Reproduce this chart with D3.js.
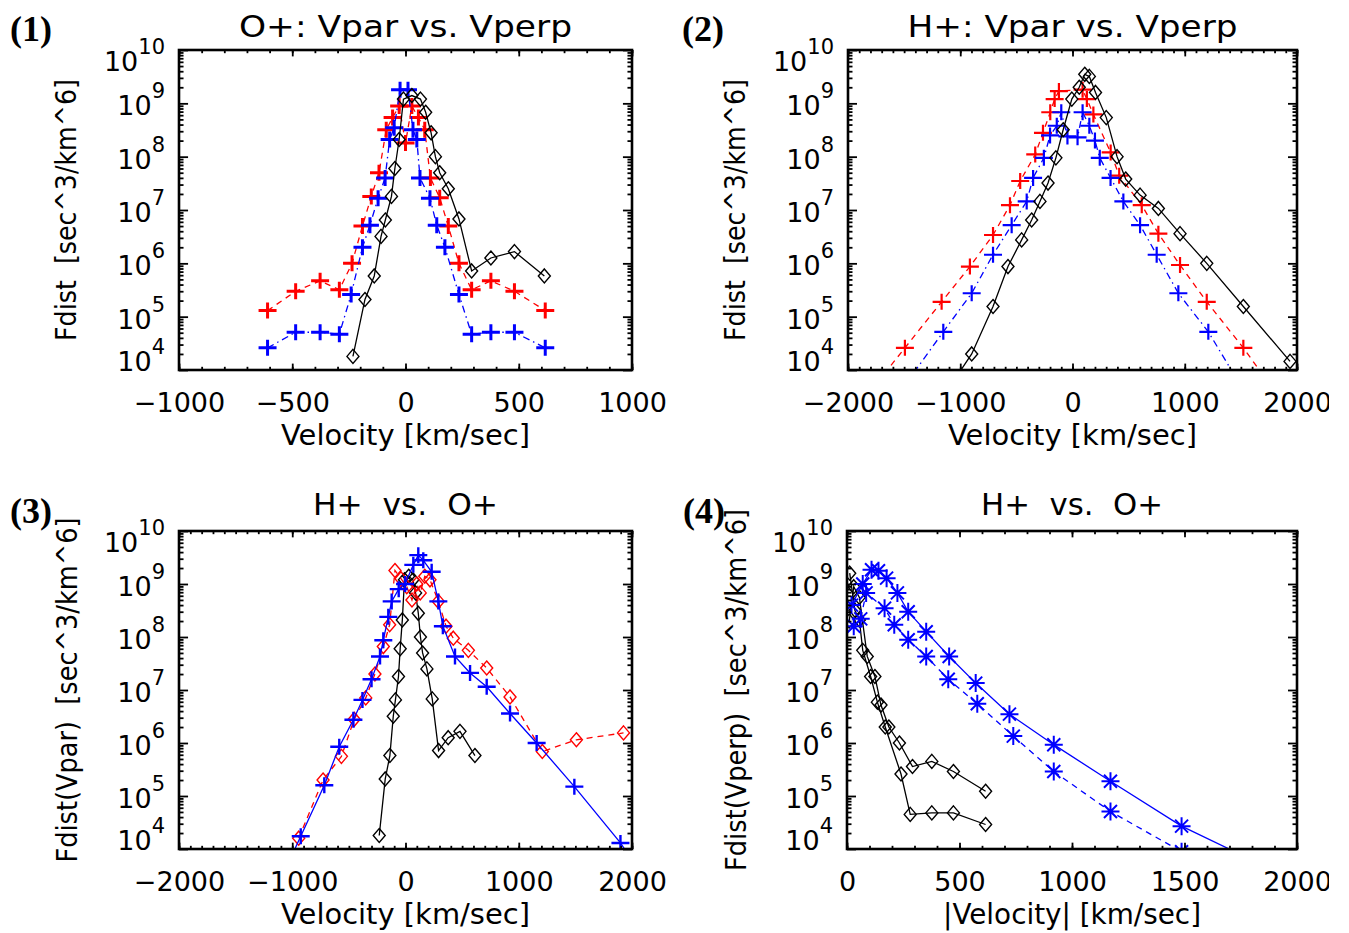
<!DOCTYPE html>
<html>
<head>
<meta charset="utf-8">
<script src="https://cdn.jsdelivr.net/npm/d3@7"></script>
<style>
  body { margin: 0; background: #fff; }
  svg text { font-family: "DejaVu Sans", sans-serif; fill: #000; }
</style>
</head>
<body>
<svg id="fig" width="1349" height="933"></svg>
<script>
// velocity in km/sec, Fdist in sec^3/km^6

// (1) O+ : black = Vpar, red / blue = the two Vperp cuts
const o1BlackV = [-232, -179, -138, -108, -89, -62, -47, -28, -9, 28, 66, 89, 113, 132, 151, 189, 236, 292, 377, 481, 613];
const o1BlackF = [1.8e4, 2.1e5, 5.8e5, 3.2e6, 6.5e6, 1.8e7, 6.0e7, 2.1e8, 1.2e9, 1.4e9, 1.2e9, 6.8e8, 2.8e8, 1.0e8, 5.0e7, 2.5e7, 6.8e6, 7.2e5, 1.26e6, 1.66e6, 5.8e5];
const o1RedV = [-609, -485, -377, -292, -236, -190, -151, -117, -85, -57, -28, 0, 28, 57, 85, 110, 151, 189, 236, 292, 377, 481, 617];
const o1RedF = [1.3e5, 3.0e5, 4.7e5, 3.2e5, 1.0e6, 5.0e6, 1.8e7, 5.0e7, 3.2e8, 5.4e8, 8.9e8, 1.8e8, 8.9e8, 5.4e8, 3.2e8, 4.0e7, 1.7e7, 5.0e6, 1.0e6, 3.2e5, 4.7e5, 3.0e5, 1.3e5];
const o1BlueV = [-609, -485, -377, -292, -240, -190, -157, -121, -90, -70, -50, -24, 11, 33, 50, 64, 108, 138, 174, 236, 292, 377, 481, 617];
const o1BlueF = [2.6e4, 5.1e4, 5.1e4, 4.7e4, 2.6e5, 2.0e6, 5.2e6, 1.66e7, 4.0e7, 2.1e8, 3.5e8, 1.8e9, 1.8e9, 3.2e8, 2.1e8, 4.0e7, 1.66e7, 5.2e6, 2.0e6, 2.6e5, 4.7e4, 5.1e4, 5.1e4, 2.6e4];

// (2) H+
const h2BlackV = [-1120, -898, -708, -575, -453, -364, -290, -218, -148, -83, -6, 60, 109, 150, 205, 301, 397, 474, 602, 765, 958, 1196, 1522, 1938];
const h2BlackF = [4e3, 2.0e4, 1.55e5, 8.7e5, 2.75e6, 6.5e6, 1.45e7, 3.2e7, 9.5e7, 3.2e8, 1.2e9, 2.0e9, 3.5e9, 3.2e9, 1.6e9, 5.4e8, 1.0e8, 3.8e7, 1.9e7, 1.07e7, 3.6e6, 1.0e6, 1.55e5, 1.45e4];
const h2RedV = [-1800, -1493, -1166, -914, -708, -557, -466, -332, -263, -198, -159, -121, 90, 128, 186, 340, 416, 617, 765, 958, 1196, 1522, 1800];
const h2RedF = [4e3, 2.6e4, 1.9e5, 8.7e5, 3.4e6, 1.23e7, 3.5e7, 1.1e8, 2.8e8, 6.8e8, 1.2e9, 1.7e9, 1.8e9, 1.2e9, 6.2e8, 1.2e8, 4.4e7, 1.23e7, 3.6e6, 9.3e5, 1.9e5, 2.6e4, 4e3];
const h2BlueV = [-1500, -1151, -898, -708, -542, -408, -351, -255, -200, -140, -100, -45, 45, 90, 150, 200, 243, 339, 453, 602, 750, 943, 1210, 1500];
const h2BlueF = [5e3, 5.2e4, 2.75e5, 1.45e6, 5.2e6, 1.45e7, 4.0e7, 9.5e7, 2.5e8, 3.8e8, 6.8e8, 2.4e8, 2.3e8, 6.8e8, 3.8e8, 2.0e8, 9.5e7, 4.0e7, 1.45e7, 5.2e6, 1.45e6, 2.75e5, 5.2e4, 5e3];

// (3) H+ vs O+, Fdist(Vpar)  (black = O+ Vpar, same as panel 1)
const h3RedV = [-943, -728, -566, -453, -351, -270, -196, -140, -93, -40, 11, 57, 99, 130, 170, 216, 290, 358, 422, 555, 717, 923, 1208, 1509, 1925];
const h3RedF = [1.6e4, 2.0e5, 5.6e5, 2.8e6, 7.1e6, 2.0e7, 6.6e7, 1.7e8, 1.8e9, 1.26e9, 8.9e8, 5.0e8, 1.0e9, 6.8e8, 1.4e9, 1.2e9, 4.7e8, 1.6e8, 9.5e7, 5.6e7, 2.6e7, 7.4e6, 6.9e5, 1.15e6, 1.55e6];
const h3BlueV = [-1050, -925, -717, -585, -460, -380, -300, -225, -196, -152, -122, -60, -4, 69, 113, 157, 231, 290, 330, 437, 570, 717, 923, 1158, 1491, 1898, 2100];
const h3BlueF = [4.6e3, 1.74e4, 1.6e5, 8.5e5, 2.75e6, 6.5e6, 1.6e7, 4.3e7, 8.7e7, 2.4e8, 4.7e8, 8e8, 1.0e9, 2.3e9, 3.5e9, 2.8e9, 1.7e9, 4.7e8, 1.6e8, 4.3e7, 2.1e7, 1.15e7, 3.6e6, 1.0e6, 1.5e5, 1.3e4, 3e3];

// (4) H+ vs O+, Fdist(Vperp) against |V|
const p4BlueAV = [20, 70, 109, 140, 176, 224, 272, 352, 454, 572, 722, 919, 1171, 1487, 1800];
const p4BlueAF = [4e8, 1e9, 1.86e9, 1.78e9, 1.29e9, 6.8e8, 3.0e8, 1.26e8, 4.3e7, 1.35e7, 3.5e6, 9.3e5, 1.9e5, 2.7e4, 6.2e3];
const p4BlueBV = [30, 61, 85, 167, 210, 272, 352, 450, 579, 739, 919, 1171, 1487];
const p4BlueBF = [1.6e8, 2.2e8, 6.8e8, 3.5e8, 1.7e8, 8.9e7, 4.3e7, 1.6e7, 5.5e6, 1.35e6, 2.9e5, 5.1e4, 8.9e3];
const p4BlackAV = [10, 30, 55, 90, 124, 151, 186, 233, 291, 377, 473, 616];
const p4BlackAF = [2e8, 8.9e8, 5.6e8, 4.3e7, 1.8e7, 5.2e6, 2.0e6, 1.0e6, 3.6e5, 4.5e5, 2.9e5, 1.23e5];
const p4BlackBV = [12, 35, 55, 70, 105, 135, 170, 240, 281, 377, 473, 616];
const p4BlackBF = [1.6e9, 3.2e8, 2.1e8, 5.6e7, 1.8e7, 5.9e6, 2.0e6, 2.6e5, 4.5e4, 4.8e4, 4.8e4, 2.9e4];

// ticks
const xTicks1 = [-1000, -500, 0, 500, 1000];
const xTicks2 = [-2000, -1000, 0, 1000, 2000];
const xTicks4 = [0, 500, 1000, 1500, 2000];
const yExps = [4, 5, 6, 7, 8, 9, 10];

const dash = { solid: null, dashed: "6,5", dashdot: "7,4,1.5,4" };
const marker = {
  plus: "M-9,0H9M0,-8V8",
  diamond: "M0,-7L6,0L0,7L-6,0Z",
  star: "M-9,0H9M0,-9V9M-6.5,-6.5L6.5,6.5M-6.5,6.5L6.5,-6.5"
};
const sp2 = "\u00a0\u00a0";

const svg = d3.select("#fig");
svg.append("clipPath").attr("id", "page").append("rect")
   .attr("x", 0).attr("y", 0).attr("width", 1329).attr("height", 933);
const page = svg.append("g").attr("clip-path", "url(#page)");

function makePanel(p) {
  const x = d3.scaleLinear().domain(p.xDomain).range([p.left, p.right]);
  const y = d3.scaleLog().domain([1e4, 1e10]).range([p.bottom, p.top]);
  const g = page.append("g");
  const w = p.right - p.left, h = p.bottom - p.top;

  svg.append("clipPath").attr("id", "c" + p.id).append("rect")
     .attr("x", p.left).attr("y", p.top).attr("width", w).attr("height", h);
  const plot = g.append("g").attr("clip-path", `url(#c${p.id})`);

  p.series.forEach(s => {
    const pts = s.v.map((v, i) => [v, s.f[i]]);
    plot.append("path")
        .attr("d", d3.line().x(d => x(d[0])).y(d => y(d[1]))(pts))
        .attr("fill", "none").attr("stroke", s.color)
        .attr("stroke-width", 1.3)
        .attr("stroke-dasharray", dash[s.line]);
    plot.selectAll(null).data(pts).join("path")
        .attr("transform", d => `translate(${x(d[0])},${y(d[1])})`)
        .attr("d", marker[s.sym])
        .attr("fill", "none").attr("stroke", s.color)
        .attr("stroke-width", s.sym == "plus" ? p.plusW : (s.sym == "star" ? 2 : 1.4));
  });

  // x axes, ticks pointing in
  const xMinor = d3.range(p.xDomain[0], p.xDomain[1] + 1, p.xMinorStep);
  const xmaj = p.xTicks;
  const tl = 0.02 * h, tly = 0.02 * w;
  g.append("g").attr("transform", `translate(0,${p.bottom})`)
    .call(d3.axisBottom(x).tickValues(xMinor).tickSize(-tl / 2).tickFormat(""));
  const botMaj = g.append("g").attr("transform", `translate(0,${p.bottom})`)
    .call(d3.axisBottom(x).tickValues(xmaj).tickSize(-tl).tickFormat(d3.format("d")));
  g.append("g").attr("transform", `translate(0,${p.top})`)
    .call(d3.axisTop(x).tickValues(xMinor).tickSize(-tl / 2).tickFormat(""));
  g.append("g").attr("transform", `translate(0,${p.top})`)
    .call(d3.axisTop(x).tickValues(xmaj).tickSize(-tl).tickFormat(""));
  botMaj.selectAll("text").attr("y", 42).attr("dy", null)
    .attr("font-size", 27).style("font-family", "DejaVu Sans");

  // y axes, log
  const yMinor = [];
  for (let e = 4; e < 10; e++) for (let k = 2; k < 10; k++) yMinor.push(k * Math.pow(10, e));
  const yMaj = yExps.map(e => Math.pow(10, e));
  g.append("g").attr("transform", `translate(${p.left},0)`)
    .call(d3.axisLeft(y).tickValues(yMinor).tickSize(-tly / 2).tickFormat(""));
  g.append("g").attr("transform", `translate(${p.left},0)`)
    .call(d3.axisLeft(y).tickValues(yMaj).tickSize(-tly).tickFormat(""));
  g.append("g").attr("transform", `translate(${p.right},0)`)
    .call(d3.axisRight(y).tickValues(yMinor).tickSize(-tly / 2).tickFormat(""));
  g.append("g").attr("transform", `translate(${p.right},0)`)
    .call(d3.axisRight(y).tickValues(yMaj).tickSize(-tly).tickFormat(""));

  g.selectAll(".domain").remove();
  g.selectAll(".tick line").attr("stroke", "#000").attr("stroke-width", 1.8);

  // y labels as 10^n
  yExps.forEach(e => {
    const yy = y(Math.pow(10, e)) + (e == 10 ? 21 : e == 4 ? 1 : 12);
    const t = g.append("text").attr("x", p.left - 14).attr("y", yy)
      .attr("text-anchor", "end").attr("font-size", 27).text("10");
    t.append("tspan").attr("dy", -17).attr("font-size", 21).text(e);
  });

  g.append("rect").attr("x", p.left).attr("y", p.top).attr("width", w).attr("height", h)
    .attr("fill", "none").attr("stroke", "#000").attr("stroke-width", 2.6);

  // titles
  g.append("text").attr("x", (p.left + p.right) / 2).attr("y", p.titleY)
    .attr("text-anchor", "middle").attr("font-size", 30)
    .attr("textLength", p.titleLen).attr("lengthAdjust", "spacingAndGlyphs")
    .text(p.title);
  g.append("text").attr("x", (p.left + p.right) / 2).attr("y", p.bottom + 75)
    .attr("text-anchor", "middle").attr("font-size", 28)
    .attr("textLength", p.xTitleLen).attr("lengthAdjust", "spacingAndGlyphs")
    .text(p.xTitle);
  g.append("text")
    .attr("transform", `translate(${p.yTitleX},${(p.top + p.bottom) / 2}) rotate(-90)`)
    .attr("text-anchor", "middle").attr("font-size", 28)
    .attr("textLength", p.yTitleLen).attr("lengthAdjust", "spacingAndGlyphs")
    .text(p.yTitle);
  g.append("text").attr("x", p.tagX).attr("y", p.tagY)
    .style("font-family", "'Liberation Serif', serif").attr("font-weight", "bold")
    .attr("font-size", 36).text(p.tag);
}

makePanel({
  id: 1, left: 179, right: 632, top: 50, bottom: 370,
  xDomain: [-1000, 1000], xTicks: xTicks1, xMinorStep: 100, plusW: 3,
  title: "O+: Vpar vs. Vperp", titleY: 37, titleLen: 333, tag: "(1)", tagX: 10, tagY: 41,
  xTitle: "Velocity [km/sec]", xTitleLen: 249,
  yTitle: "Fdist" + sp2 + "[sec^3/km^6]", yTitleX: 76, yTitleLen: 262,
  series: [
    { v: o1RedV, f: o1RedF, color: "#f00", line: "dashed", sym: "plus" },
    { v: o1BlueV, f: o1BlueF, color: "#00f", line: "dashdot", sym: "plus" },
    { v: o1BlackV, f: o1BlackF, color: "#000", line: "solid", sym: "diamond" }
  ]
});

makePanel({
  id: 2, left: 848, right: 1297, top: 50, bottom: 370,
  xDomain: [-2000, 2000], xTicks: xTicks2, xMinorStep: 100, plusW: 2.2,
  title: "H+: Vpar vs. Vperp", titleY: 37, titleLen: 330, tag: "(2)", tagX: 682, tagY: 41,
  xTitle: "Velocity [km/sec]", xTitleLen: 249,
  yTitle: "Fdist" + sp2 + "[sec^3/km^6]", yTitleX: 745, yTitleLen: 262,
  series: [
    { v: h2RedV, f: h2RedF, color: "#f00", line: "dashed", sym: "plus" },
    { v: h2BlueV, f: h2BlueF, color: "#00f", line: "dashdot", sym: "plus" },
    { v: h2BlackV, f: h2BlackF, color: "#000", line: "solid", sym: "diamond" }
  ]
});

makePanel({
  id: 3, left: 179, right: 632, top: 531, bottom: 849,
  xDomain: [-2000, 2000], xTicks: xTicks2, xMinorStep: 100, plusW: 2.4,
  title: "H+" + sp2 + "vs." + sp2 + "O+", titleY: 515, titleLen: 185, tag: "(3)", tagX: 10, tagY: 523,
  xTitle: "Velocity [km/sec]", xTitleLen: 249,
  yTitle: "Fdist(Vpar)" + sp2 + "[sec^3/km^6]", yTitleX: 77, yTitleLen: 345,
  series: [
    { v: o1BlackV, f: o1BlackF, color: "#000", line: "solid", sym: "diamond" },
    { v: h3RedV, f: h3RedF, color: "#f00", line: "dashed", sym: "diamond" },
    { v: h3BlueV, f: h3BlueF, color: "#00f", line: "solid", sym: "plus" }
  ]
});

makePanel({
  id: 4, left: 847, right: 1297, top: 531, bottom: 849,
  xDomain: [0, 2000], xTicks: xTicks4, xMinorStep: 100, plusW: 2.4,
  title: "H+" + sp2 + "vs." + sp2 + "O+", titleY: 515, titleLen: 182, tag: "(4)", tagX: 683, tagY: 523,
  xTitle: "|Velocity| [km/sec]", xTitleLen: 258,
  yTitle: "Fdist(Vperp)" + sp2 + "[sec^3/km^6]", yTitleX: 746, yTitleLen: 362,
  series: [
    { v: p4BlackAV, f: p4BlackAF, color: "#000", line: "solid", sym: "diamond" },
    { v: p4BlackBV, f: p4BlackBF, color: "#000", line: "solid", sym: "diamond" },
    { v: p4BlueAV, f: p4BlueAF, color: "#00f", line: "solid", sym: "star" },
    { v: p4BlueBV, f: p4BlueBF, color: "#00f", line: "dashed", sym: "star" }
  ]
});
</script>
</body>
</html>
